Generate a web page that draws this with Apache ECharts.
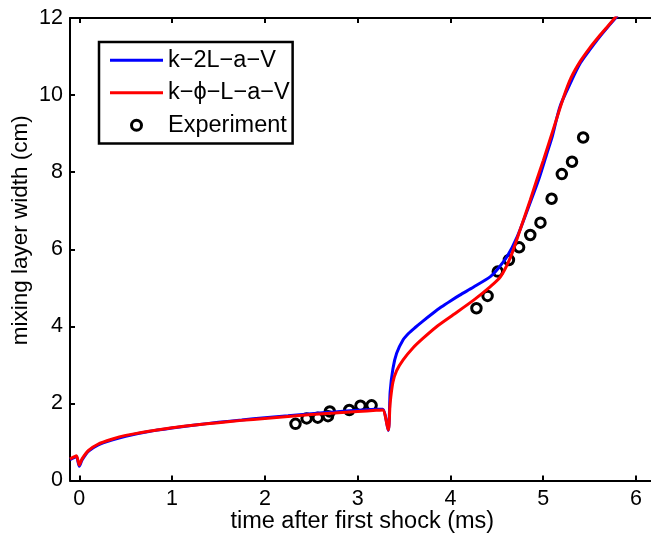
<!DOCTYPE html>
<html>
<head>
<meta charset="utf-8">
<script src="https://cdn.jsdelivr.net/npm/echarts@6/dist/echarts.min.js"></script>
<style>
html,body{margin:0;padding:0;background:#fff;}
#chart{width:651px;height:535px;}
</style>
</head>
<body>
<div id="chart"></div>
<script>
// k-2L-a-V model (time ms, width cm)
const blueT = [-0.1,-0.05,-0.03,0.0,0.03,0.1,0.2,0.35,0.5,0.75,1.0,1.25,1.5,1.75,2.0,2.25,2.5,2.75,3.0,3.2,3.27,3.33,3.35,3.38,3.42,3.49,3.55,3.62,3.7,3.8,3.9,4.0,4.1,4.25,4.43,4.5,4.61,4.72,4.83,4.95,5.04,5.1,5.18,5.3,5.4,5.5,5.58,5.7,5.8];
const blueY = [0.54,0.6,0.62,0.37,0.53,0.76,0.92,1.05,1.15,1.27,1.36,1.44,1.51,1.57,1.63,1.68,1.73,1.78,1.82,1.85,1.85,1.30,2.3,2.9,3.3,3.65,3.82,3.97,4.13,4.32,4.50,4.66,4.81,5.02,5.29,5.46,5.81,6.33,7.02,7.80,8.49,8.95,9.70,10.35,10.83,11.17,11.43,11.78,12.05];
// k-phi-L-a-V model
const redT = [-0.1,-0.05,-0.03,0.0,0.03,0.1,0.2,0.35,0.5,0.75,1.0,1.25,1.5,1.75,2.0,2.25,2.5,2.75,3.0,3.2,3.27,3.33,3.35,3.38,3.42,3.49,3.6,3.7,3.85,4.0,4.25,4.43,4.54,4.65,4.75,4.86,4.93,5.0,5.1,5.22,5.3,5.4,5.5,5.6,5.7,5.8];
const redY = [0.56,0.62,0.64,0.40,0.56,0.78,0.94,1.07,1.17,1.28,1.37,1.44,1.5,1.56,1.61,1.66,1.71,1.75,1.79,1.82,1.83,1.31,2.0,2.55,2.85,3.13,3.45,3.68,3.99,4.25,4.68,5.03,5.29,5.81,6.50,7.28,7.80,8.3,9.05,9.95,10.45,10.88,11.22,11.52,11.8,12.08];
// Experiment
const expT = [2.33,2.45,2.57,2.68,2.70,2.91,3.03,3.15,4.28,4.40,4.51,4.63,4.74,4.86,4.97,5.09,5.20,5.31,5.43];
const expY = [1.47,1.61,1.63,1.67,1.79,1.83,1.94,1.95,4.47,4.79,5.42,5.72,6.05,6.37,6.69,7.31,7.95,8.27,8.90];
const xTicks = [0,1,2,3,4,5,6];
const yTicks = [0,2,4,6,8,10,12];
const names = ['k\u2212\u0032L\u2212a\u2212V','k\u2212\u03d5\u2212L\u2212a\u2212V','Experiment'];

const zip = (a,b) => a.map((v,i)=>[v,b[i]]);
const FONT = 'Liberation Sans';
const chart = echarts.init(document.getElementById('chart'), null, {renderer:'canvas'});
const axisLine = {show:true, onZero:false, lineStyle:{color:'#000', width:2}};
const tick = {show:true, inside:true, length:5, lineStyle:{color:'#000', width:2}};
const lineIcon = 'path://M0,0H53V3H0Z';
chart.setOption({
  animation:false,
  backgroundColor:'#fff',
  grid:{left:70, top:18, width:584.6, height:462.5, containLabel:false, outerBoundsMode:'none'},
  legend:{
    left:99, top:42, orient:'vertical',
    backgroundColor:'#fff', borderColor:'#000', borderWidth:2.5, borderRadius:0,
    padding:[2,3,2,11], itemGap:0, itemWidth:53, itemHeight:10,
    textStyle:{fontFamily:FONT, fontSize:23.5, color:'#000', lineHeight:32.5},
    data:[{name:names[0], icon:lineIcon},{name:names[1], icon:lineIcon},
      {name:names[2], icon:'circle', itemStyle:{color:'rgba(0,0,0,0)', borderColor:'#000', borderWidth:3}}]
  },
  xAxis:[{
    type:'value', min:-0.1, max:6.2,
    name:'time after first shock (ms)', nameLocation:'middle', nameGap:29, nameMoveOverlap:false,
    nameTextStyle:{fontFamily:FONT, fontSize:23.5, color:'#000'},
    axisLine:axisLine, splitLine:{show:false},
    axisLabel:{fontFamily:FONT, fontSize:21.5, color:'#000', margin:8,
      customValues:xTicks, formatter:v=>String(v)},
    axisTick:Object.assign({customValues:xTicks}, tick)
  },{
    type:'value', position:'top', min:-0.1, max:6.2,
    axisLine:axisLine, axisLabel:{show:false}, splitLine:{show:false},
    axisTick:Object.assign({customValues:xTicks}, tick)
  }],
  yAxis:{
    type:'value', min:0, max:12, interval:2,
    name:'mixing layer width (cm)', nameLocation:'middle', nameGap:38, nameMoveOverlap:false,
    nameTextStyle:{fontFamily:FONT, fontSize:22.5, color:'#000', padding:[0,0,0,38]},
    axisLine:axisLine, axisTick:tick, splitLine:{show:false},
    axisLabel:{fontFamily:FONT, fontSize:21.5, color:'#000', margin:7,
      customValues:yTicks, formatter:v=>String(v)}
  },
  series:[
    {name:names[0], type:'line', data:zip(blueT,blueY), symbol:'none', smooth:0.25,
     lineStyle:{color:'#0000ff', width:3}, itemStyle:{color:'#0000ff'}},
    {name:names[1], type:'line', data:zip(redT,redY), symbol:'none', smooth:0.25,
     lineStyle:{color:'#ff0000', width:3}, itemStyle:{color:'#ff0000'}},
    {name:names[2], type:'scatter', data:zip(expT,expY), symbol:'circle', symbolSize:9.5,
     itemStyle:{color:'rgba(0,0,0,0)', borderColor:'#000', borderWidth:3, opacity:1}}
  ]
});
</script>
</body>
</html>
